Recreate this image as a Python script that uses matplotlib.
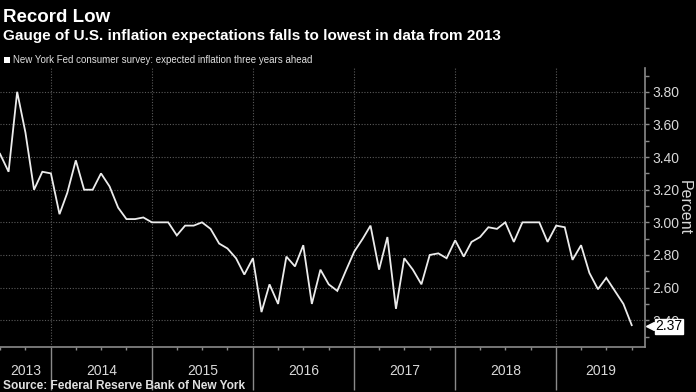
import matplotlib
matplotlib.use("Agg")
import matplotlib.pyplot as plt
import matplotlib.dates as mdates
import pandas as pd
import numpy as np
from matplotlib.transforms import blended_transform_factory

# New York Fed SCE: expected inflation three years ahead, monthly
start_month = "2013-07-01"
expected_3y = [
    3.42, 3.31, 3.80, 3.55, 3.20, 3.31, 3.30, 3.05, 3.18, 3.38,
    3.20, 3.20, 3.30, 3.22, 3.09, 3.02, 3.02, 3.03, 3.00, 3.00,
    3.00, 2.92, 2.98, 2.98, 3.00, 2.96, 2.87, 2.84, 2.78, 2.68,
    2.78, 2.45, 2.62, 2.50, 2.79, 2.73, 2.86, 2.50, 2.71, 2.62,
    2.58, 2.70, 2.82, 2.90, 2.98, 2.71, 2.91, 2.47, 2.78, 2.71,
    2.62, 2.80, 2.81, 2.78, 2.89, 2.79, 2.88, 2.91, 2.97, 2.96,
    3.00, 2.88, 3.00, 3.00, 3.00, 2.88, 2.98, 2.97, 2.77, 2.86,
    2.69, 2.59, 2.66, 2.58, 2.50, 2.37,
]
years = [2013, 2014, 2015, 2016, 2017, 2018, 2019]
yticks = [2.40, 2.60, 2.80, 3.00, 3.20, 3.40, 3.60, 3.80]
last_label = "2.37"

title = "Record Low"
subtitle = "Gauge of U.S. inflation expectations falls to lowest in data from 2013"
legend_text = "New York Fed consumer survey: expected inflation three years ahead"
source = "Source: Federal Reserve Bank of New York"

FONT = ["Liberation Sans", "DejaVu Sans"]
plt.rcParams["font.family"] = FONT

dates = pd.date_range(start_month, periods=len(expected_3y), freq="MS")

W, H = 696, 392
fig = plt.figure(figsize=(W / 100, H / 100), dpi=100, facecolor="black")
ax = fig.add_axes([0, (H - 347) / H, 645 / W, (347 - 68) / H], facecolor="black")

ax.plot(dates, expected_3y, color="#ececec", lw=1.3, solid_joinstyle="miter", zorder=3)

x0 = mdates.date2num(pd.Timestamp("2013-07-01"))
x1 = mdates.date2num(pd.Timestamp("2019-11-18"))
ax.set_xlim(x0, x1)
ax.set_ylim(2.236, 3.946)

grey = "#8a8a8a"
for s in ["top", "left"]:
    ax.spines[s].set_visible(False)
ax.spines["right"].set_color(grey)
ax.spines["bottom"].set_color(grey)
ax.spines["right"].set_linewidth(1.2)
ax.spines["bottom"].set_linewidth(1.2)

# y axis on right
ax.yaxis.tick_right()
ax.set_yticks(yticks)
ax.set_yticklabels([f"{v:.2f}" for v in yticks])
ax.set_yticks(np.arange(2.30, 3.95, 0.2), minor=True)
ax.tick_params(axis="y", which="both", colors=grey, labelcolor="#d8d8d8",
               labelsize=10, length=3, width=1, pad=2)
ax.yaxis.set_label_position("right")
ax.set_ylabel("Percent", color="#d8d8d8", fontsize=11.5, rotation=270, labelpad=9)

# x axis: year separators and quarterly minor ticks
year_starts = [pd.Timestamp(f"{y}-01-01") for y in years[1:]]
ax.set_xticks(mdates.date2num(year_starts))
ax.set_xticklabels([])
quarters = pd.date_range("2013-07-01", "2019-10-01", freq="QS")
ax.set_xticks(mdates.date2num(quarters), minor=True)
ax.tick_params(axis="x", which="major", colors=grey, length=31, width=1)
ax.tick_params(axis="x", which="minor", colors=grey, length=2.5, width=1)

trans = blended_transform_factory(ax.transData, ax.transAxes)
for y in years:
    a = max(mdates.date2num(pd.Timestamp(f"{y}-01-01")), x0)
    b = min(mdates.date2num(pd.Timestamp(f"{y + 1}-01-01")), x1)
    ax.text((a + b) / 2, -0.085, str(y), transform=trans, ha="center", va="center",
            color="#d8d8d8", fontsize=10)

ax.grid(True, which="major", axis="both", color="#5a5a5a", lw=0.8, ls=(0, (1, 1.5)))
ax.set_axisbelow(True)

# last value label (covers the lower part of the 2.40 tick label, as in the source)
ytrans = blended_transform_factory(ax.transAxes, ax.transData)
ax.text(1.016, expected_3y[-1] - 0.008, last_label, transform=ytrans, ha="left", va="center",
        color="black", fontsize=10, zorder=10, clip_on=False,
        bbox=dict(boxstyle="square,pad=0.05", fc="white", ec="white"))
ax.plot([1.008], [expected_3y[-1] - 0.008], marker="<", ms=6, color="white", transform=ytrans,
        clip_on=False, zorder=10)

# header and footer
fig.text(3 / W, 1 - 21.7 / H, title, color="white", fontsize=13.5, fontweight="bold",
         va="baseline")
fig.text(3 / W, 1 - 40 / H, subtitle, color="white", fontsize=11, fontweight="bold",
         va="baseline")
fig.patches.append(plt.Rectangle((4 / W, 1 - 62.7 / H), 6 / W, 6 / H, transform=fig.transFigure,
                                 fc="white", ec="none"))
fig.text(13 / W, 1 - 63.3 / H, legend_text, color="#e0e0e0", fontsize=7, va="baseline")
fig.text(3 / W, 1 - 389 / H, source, color="#e0e0e0", fontsize=8.6, fontweight="bold",
         va="baseline")

fig.savefig("out.png", dpi=100, facecolor="black")
